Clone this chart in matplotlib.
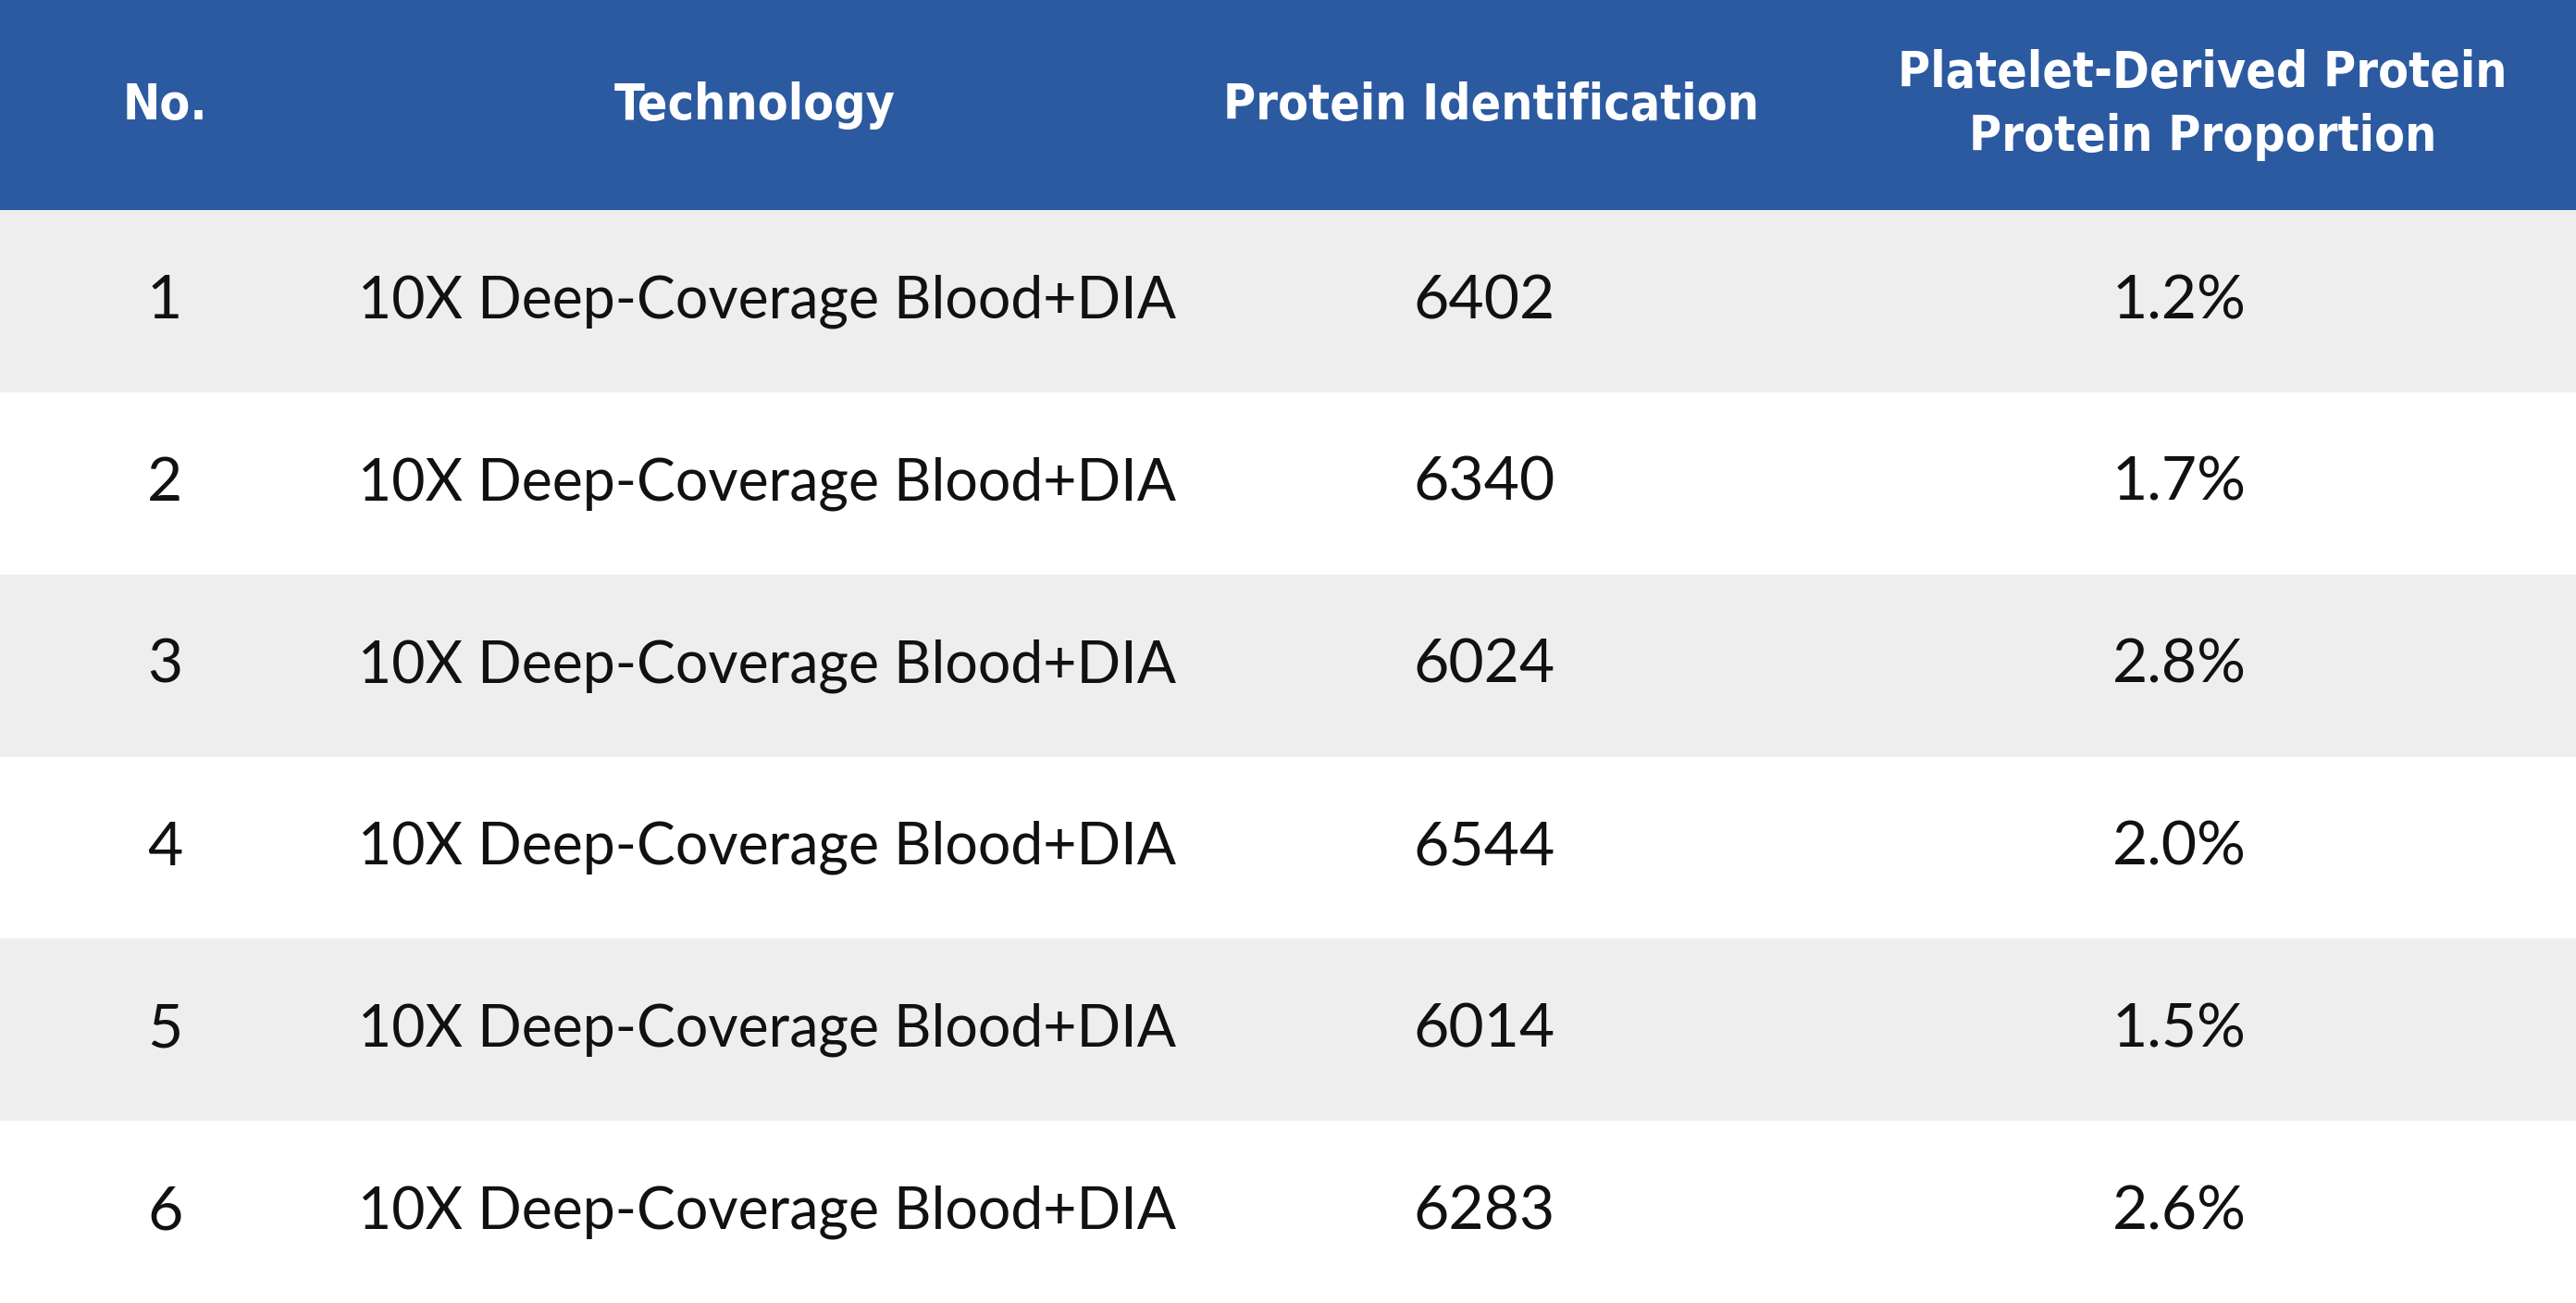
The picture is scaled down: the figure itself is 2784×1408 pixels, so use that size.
import matplotlib.pyplot as plt

columns = ["No.", "Technology", "Protein Identification",
           "Platelet-Derived Protein\nProtein Proportion"]
nos = [1, 2, 3, 4, 5, 6]
technology = ["10X Deep-Coverage Blood+DIA"] * 6
protein_ids = [6402, 6340, 6024, 6544, 6014, 6283]
proportions = [1.2, 1.7, 2.8, 2.0, 1.5, 2.6]

blue = "#2C5AA1"
gray = "#EEEEEE"
head_h = 1.155  # header height in row units

fig = plt.figure(figsize=(27.84, 14.08), dpi=100)
ax = fig.add_axes([0, 0, 1, 1])
n = len(nos)
ax.set_xlim(0, 1)
ax.set_ylim(n, -head_h)
ax.axis("off")

ax.axhspan(-head_h, 0, color=blue, lw=0)
for i in range(n):
    ax.axhspan(i, i + 1, color=gray if i % 2 == 0 else "white", lw=0)

hx = [0.064, 0.293, 0.579, 0.855]
hfont = dict(family="DejaVu Sans", stretch="condensed", weight="bold",
             color="white", fontsize=38.5, ha="center", va="center")
for x, c in zip(hx, columns):
    ax.text(x, -head_h / 2, c, linespacing=1.4, **hfont)

bfont = dict(family="Lato", color="#111111", fontsize=45, va="center")
nfont = dict(bfont, fontsize=47.5)
for i in range(n):
    y = i + 0.5
    ax.text(0.064, y, str(nos[i]), ha="center", **nfont)
    ax.text(0.139, y, technology[i], ha="left", **bfont)
    ax.text(0.576, y, str(protein_ids[i]), ha="center", **nfont)
    ax.text(0.846, y, f"{proportions[i]:.1f}%", ha="center", **nfont)

fig.savefig("out.png", dpi=100)
